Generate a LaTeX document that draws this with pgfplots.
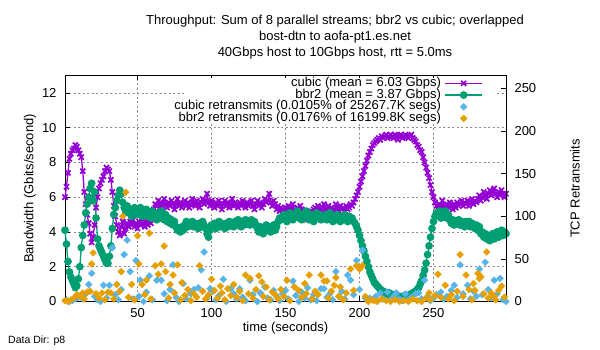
\documentclass[border=0pt]{standalone}
\usepackage{pgfplots}
\pgfplotsset{compat=1.18}
\usepackage{fontspec}
\setmainfont{Liberation Sans}
\definecolor{cubicc}{RGB}{148,0,211}
\definecolor{bbrc}{RGB}{0,158,115}
\definecolor{cubr}{RGB}{86,180,233}
\definecolor{bbrr}{RGB}{230,159,0}
\pgfplotsset{
  cubicstyle/.style={color=cubicc, line width=1.3pt, mark=x, mark size=3.6pt, mark options={line width=1.7pt}},
  bbrstyle/.style={color=bbrc, line width=1.3pt, mark=*, mark size=3.2pt},
  cubrstyle/.style={only marks, color=cubr, mark=square*, mark size=2.4pt, mark options={rotate=45}},
  bbrrstyle/.style={only marks, color=bbrr, mark=square*, mark size=2.4pt, mark options={rotate=45}},
  mylegend/.style={legend image code/.code={\draw[mark repeat=2,mark phase=2,##1] plot coordinates {(-15pt,0pt) (3.5pt,0pt) (22pt,0pt)};}},
}
\newcommand{\tfont}{\fontsize{13}{13}\selectfont}
\begin{document}
\tfont
\begin{tikzpicture}
\useasboundingbox (0pt,0pt) rectangle (600pt,350pt);
\node[anchor=base, font=\tfont] at (335pt,325.4pt) {Throughput: Sum of 8 parallel streams; bbr2 vs cubic; overlapped};
\node[anchor=base, font=\tfont] at (335pt,309.4pt) {bost-dtn to aofa-pt1.es.net};
\node[anchor=base, font=\tfont] at (335pt,293.4pt) {40Gbps host to 10Gbps host, rtt = 5.0ms};
\node[anchor=base west, font=\fontsize{10.5}{10.5}\selectfont, inner sep=0pt] at (8pt,6pt) {Data Dir: p8};
\begin{axis}[
  at={(65pt,48.5pt)}, anchor=south west, scale only axis,
  width=441pt, height=226pt,
  xmin=1, xmax=299, ymin=0, ymax=13,
  xtick={50,100,150,200,250},
  ytick={0,2,4,6,8,10,12},
  ytick pos=left, xtick pos=both,
  tick align=inside, major tick length=5pt,
  tick style={black, line width=0.6pt},
  grid=major,
  grid style={black!45, dash pattern=on 2pt off 2.5pt, line width=0.6pt},
  axis line style={line width=0.9pt},
  ticklabel style={font=\tfont},
  yticklabel style={xshift=-4pt},
  xticklabel style={yshift=-2pt},
  /pgf/number format/assume math mode=true,
  xlabel={time (seconds)},
  ylabel={Bandwidth (Gbits/second)},
  every axis y label/.style={at={(axis description cs:-0.0794,0.5)}, rotate=90, anchor=center, font=\tfont},
  every axis x label/.style={at={(axis description cs:0.5,-0.12)}, anchor=center, font=\tfont},
  clip=false,
]
\addplot[cubicstyle] coordinates {
(1,6.0)(2,6.6)(3,7.4)(4,8.2)(5,8.5)(6,8.7)(7,8.8)(8,9.0)(9,8.9)(10,8.7)
(11,8.5)(12,8.3)(13,7.5)(14,6.3)(15,5.6)(16,5.0)(17,4.5)(18,3.9)(19,3.4)(20,3.7)
(21,4.4)(22,5.4)(23,6.0)(24,6.5)(25,6.8)(26,7.0)(27,7.2)(28,7.5)(29,7.7)(30,7.6)
(31,7.5)(32,7.0)(33,6.3)(34,5.5)(35,4.9)(36,4.4)(37,4.0)(38,3.8)(39,4.3)(40,4.6)
(41,3.9)(42,4.2)(43,4.5)(44,4.3)(45,4.6)(46,4.4)(47,4.7)(48,4.3)(49,4.5)(50,4.2)
(51,4.6)(52,4.4)(53,4.8)(54,4.5)(55,4.3)(56,4.6)(57,4.4)(58,4.7)(59,4.5)(60,4.9)
(61,5.3)(62,5.6)(63,5.5)(64,5.8)(65,5.4)(66,5.7)(67,5.5)(68,5.9)(69,5.6)(70,5.4)
(71,5.7)(72,5.5)(73,5.8)(74,5.6)(75,5.3)(76,5.6)(77,5.9)(78,5.5)(79,5.7)(80,5.4)
(81,5.6)(82,5.8)(83,5.5)(84,5.7)(85,5.4)(86,5.6)(87,5.9)(88,5.6)(89,5.5)(90,5.8)
(91,5.6)(92,5.4)(93,5.7)(94,5.9)(95,5.6)(96,5.8)(97,6.2)(98,5.7)(99,5.5)(100,5.8)
(101,5.6)(102,5.4)(103,5.7)(104,5.5)(105,5.8)(106,5.6)(107,5.3)(108,5.6)(109,5.8)(110,5.5)
(111,5.7)(112,5.4)(113,5.6)(114,5.9)(115,5.5)(116,5.7)(117,5.6)(118,5.4)(119,5.7)(120,5.5)
(121,5.8)(122,5.6)(123,5.4)(124,5.7)(125,5.5)(126,5.6)(127,5.8)(128,5.5)(129,5.3)(130,5.6)
(131,5.8)(132,5.5)(133,5.7)(134,5.4)(135,5.6)(136,5.9)(137,5.7)(138,5.8)(139,6.2)(140,5.7)
(141,5.5)(142,5.8)(143,5.6)(144,5.3)(145,5.5)(146,5.2)(147,5.4)(148,5.3)(149,5.1)(150,5.4)
(151,5.3)(152,5.5)(153,5.2)(154,5.4)(155,5.6)(156,5.3)(157,5.1)(158,5.4)(159,5.2)(160,5.5)
(161,5.3)(162,5.0)(163,4.8)(164,4.7)(165,5.0)(166,4.8)(167,5.2)(168,4.9)(169,5.3)(170,5.4)
(171,5.2)(172,5.5)(173,5.3)(174,5.1)(175,5.4)(176,5.6)(177,5.3)(178,5.2)(179,5.5)(180,5.3)
(181,5.4)(182,5.1)(183,5.3)(184,5.6)(185,5.4)(186,5.2)(187,5.5)(188,5.3)(189,5.4)(190,5.2)
(191,5.5)(192,5.3)(193,5.4)(194,5.6)(195,5.5)(196,5.7)(197,5.9)(198,6.1)(199,6.3)(200,6.6)
(201,6.9)(202,7.2)(203,7.5)(204,7.8)(205,8.1)(206,8.4)(207,8.6)(208,8.8)(209,9.0)(210,9.1)
(211,9.2)(212,9.3)(213,9.4)(214,9.3)(215,9.5)(216,9.4)(217,9.5)(218,9.6)(219,9.4)(220,9.5)
(221,9.6)(222,9.5)(223,9.4)(224,9.6)(225,9.5)(226,9.3)(227,9.5)(228,9.6)(229,9.4)(230,9.5)
(231,9.6)(232,9.5)(233,9.4)(234,9.5)(235,9.6)(236,9.4)(237,9.3)(238,9.2)(239,9.0)(240,8.9)
(241,8.7)(242,8.6)(243,8.3)(244,8.0)(245,7.7)(246,7.4)(247,7.1)(248,6.7)(249,6.3)(250,6.0)
(251,5.7)(252,5.5)(253,5.3)(254,5.6)(255,5.4)(256,5.8)(257,5.5)(258,5.3)(259,5.6)(260,5.4)
(261,5.7)(262,5.5)(263,5.3)(264,5.6)(265,5.4)(266,5.7)(267,5.5)(268,5.6)(269,5.8)(270,5.5)
(271,5.7)(272,5.6)(273,5.8)(274,5.5)(275,5.7)(276,5.9)(277,5.6)(278,5.8)(279,5.7)(280,5.9)
(281,6.1)(282,5.8)(283,6.0)(284,6.3)(285,6.1)(286,5.9)(287,6.2)(288,6.4)(289,6.1)(290,6.3)
(291,6.5)(292,6.2)(293,6.0)(294,6.3)(295,6.1)(296,6.4)(297,6.2)(298,6.0)(299,6.2)
};
\addplot[bbrstyle] coordinates {
(1,4.1)(2,3.3)(3,2.3)(4,1.7)(5,1.4)(6,1.2)(7,1.0)(8,0.8)(9,0.9)(10,1.3)
(11,2.0)(12,3.1)(13,3.8)(14,4.4)(15,5.1)(16,5.6)(17,6.0)(18,6.5)(19,6.8)(20,5.8)
(21,6.3)(22,4.8)(23,3.6)(24,3.2)(25,3.0)(26,2.8)(27,2.6)(28,2.4)(29,2.2)(30,2.2)
(31,2.6)(32,3.2)(33,4.2)(34,5.0)(35,5.4)(36,5.8)(37,6.1)(38,6.4)(39,6.2)(40,5.7)
(41,5.4)(42,5.2)(43,5.5)(44,5.1)(45,5.3)(46,4.9)(47,5.2)(48,5.4)(49,5.0)(50,5.3)
(51,5.1)(52,5.4)(53,4.9)(54,5.2)(55,5.0)(56,5.3)(57,4.9)(58,5.1)(59,4.8)(60,5.2)
(61,4.9)(62,5.1)(63,4.7)(64,5.0)(65,4.8)(66,5.2)(67,4.9)(68,4.7)(69,5.0)(70,4.6)
(71,4.8)(72,4.5)(73,4.7)(74,4.4)(75,4.6)(76,4.3)(77,4.1)(78,4.2)(79,4.0)(80,4.3)
(81,4.1)(82,4.4)(83,4.6)(84,4.3)(85,4.5)(86,4.4)(87,4.6)(88,4.3)(89,4.5)(90,4.4)
(91,4.2)(92,4.5)(93,4.3)(94,4.6)(95,4.4)(96,4.2)(97,3.9)(98,3.7)(99,4.1)(100,4.4)
(101,4.3)(102,4.5)(103,4.2)(104,4.4)(105,4.6)(106,4.3)(107,4.5)(108,4.4)(109,4.2)(110,4.5)
(111,4.3)(112,4.6)(113,4.4)(114,4.5)(115,4.3)(116,4.6)(117,4.4)(118,4.7)(119,4.5)(120,4.3)
(121,4.6)(122,4.4)(123,4.7)(124,4.5)(125,4.6)(126,4.4)(127,4.7)(128,4.5)(129,4.6)(130,4.4)
(131,4.2)(132,4.0)(133,4.3)(134,4.1)(135,3.9)(136,4.2)(137,4.4)(138,4.1)(139,4.3)(140,4.0)
(141,4.2)(142,4.4)(143,4.1)(144,4.3)(145,4.6)(146,4.8)(147,4.7)(148,4.9)(149,5.0)(150,4.8)
(151,4.6)(152,4.9)(153,5.1)(154,4.8)(155,4.7)(156,5.0)(157,4.9)(158,5.2)(159,4.8)(160,5.0)
(161,4.7)(162,4.9)(163,5.1)(164,5.2)(165,4.9)(166,4.7)(167,5.0)(168,4.8)(169,4.6)(170,4.9)
(171,5.1)(172,4.8)(173,5.0)(174,4.7)(175,4.9)(176,4.8)(177,5.0)(178,4.7)(179,4.9)(180,5.1)
(181,4.8)(182,4.6)(183,4.9)(184,4.7)(185,5.0)(186,4.8)(187,4.6)(188,4.9)(189,4.7)(190,5.0)
(191,4.8)(192,4.6)(193,4.9)(194,4.7)(195,4.8)(196,4.6)(197,4.5)(198,4.3)(199,4.1)(200,3.8)
(201,3.5)(202,3.2)(203,2.9)(204,2.6)(205,2.3)(206,2.0)(207,1.7)(208,1.5)(209,1.3)(210,1.1)
(211,1.0)(212,0.9)(213,0.8)(214,0.7)(215,0.6)(216,0.6)(217,0.5)(218,0.5)(219,0.4)(220,0.5)
(221,0.4)(222,0.4)(223,0.3)(224,0.4)(225,0.3)(226,0.3)(227,0.3)(228,0.2)(229,0.3)(230,0.3)
(231,0.2)(232,0.3)(233,0.3)(234,0.4)(235,0.4)(236,0.5)(237,0.5)(238,0.6)(239,0.7)(240,0.8)
(241,1.0)(242,1.2)(243,1.5)(244,1.8)(245,2.2)(246,2.7)(247,3.2)(248,3.7)(249,4.2)(250,4.6)
(251,4.9)(252,5.1)(253,5.0)(254,5.2)(255,4.8)(256,5.1)(257,4.9)(258,5.2)(259,4.8)(260,5.0)
(261,4.7)(262,4.5)(263,4.7)(264,4.4)(265,4.6)(266,4.5)(267,4.7)(268,4.4)(269,4.6)(270,4.5)
(271,4.3)(272,4.6)(273,4.4)(274,4.6)(275,4.3)(276,4.5)(277,4.4)(278,4.2)(279,4.4)(280,4.1)
(281,4.3)(282,3.9)(283,4.0)(284,3.7)(285,3.9)(286,3.6)(287,3.8)(288,3.5)(289,3.7)(290,3.9)
(291,3.6)(292,3.8)(293,4.0)(294,3.7)(295,3.9)(296,4.1)(297,3.8)(298,4.0)(299,3.9)
};
\fill[white] (axis description cs:0.2766,0.785) rectangle (axis description cs:0.975,0.99);
\end{axis}
\begin{axis}[
  at={(65pt,48.5pt)}, anchor=south west, scale only axis,
  width=441pt, height=226pt,
  xmin=1, xmax=299, ymin=0, ymax=265,
  axis x line=none, axis y line*=right,
  ytick={0,50,100,150,200,250},
  tick align=inside, major tick length=5pt,
  tick style={black, line width=0.6pt},
  axis line style={line width=0.9pt},
  ticklabel style={font=\tfont},
  yticklabel style={xshift=4pt},
  /pgf/number format/assume math mode=true,
  ylabel={TCP Retransmits},
  every axis y label/.style={at={(axis description cs:1.1565,0.5)}, rotate=90, anchor=center, font=\tfont},
  clip=false,
  mylegend,
  legend cell align=right, legend plot pos=right,
  legend style={at={(axis description cs:0.9479,0.992)}, anchor=north east, draw=none, fill=none,
    font=\tfont, inner xsep=0pt, inner ysep=0pt, row sep=0pt,
    nodes={inner ysep=0pt, inner xsep=3.5pt, text height=9pt, text depth=2.7pt}},
]
\addlegendimage{color=cubicc, line width=1.3pt, mark=x, mark size=3.6pt, mark options={line width=1.7pt}}
\addlegendentry{cubic (mean = 6.03 Gbps)}
\addlegendimage{color=bbrc, line width=1.3pt, mark=*, mark size=3.2pt}
\addlegendentry{bbr2 (mean = 3.87 Gbps)}
\addplot[cubrstyle] coordinates {
(2,2)(4,0)(6,1)(8,3)(10,5)(12,7)(13,3)(15,9)(17,20)(19,33)(21,6)(23,2)(25,0)(27,19)(29,4)(31,19)(33,63)(35,8)(37,2)(39,14)
(41,55)(43,72)(45,35)(47,3)(49,48)(51,6)(52,25)(54,0)(56,11)(58,30)(60,2)(63,25)(66,25)(68,9)(70,1)(72,14)(74,43)(76,5)(78,0)(81,21)
(83,3)(86,9)(88,14)(91,16)(93,37)(95,58)(97,4)(99,15)(101,12)(103,2)(105,7)(108,26)(110,0)(113,15)(115,9)(117,3)(119,15)(121,5)(123,1)(126,25)
(128,8)(131,0)(133,10)(136,17)(138,4)(140,2)(142,13)(144,6)(146,1)(148,9)(150,13)(152,3)(155,24)(157,7)(159,0)(161,11)(163,4)(165,16)(167,2)(169,8)
(171,1)(174,15)(176,15)(178,5)(180,9)(182,2)(184,35)(186,6)(188,12)(190,3)(192,31)(194,25)(196,8)(198,48)(200,14)(202,60)(204,4)(206,1)(207,4)(209,2)
(211,6)(214,10)(216,3)(219,11)(221,2)(223,6)(225,10)(227,3)(229,1)(231,9)(233,2)(235,5)(238,9)(240,10)(242,3)(244,25)(246,6)(248,1)(250,4)(252,8)
(255,11)(257,3)(259,6)(262,13)(264,19)(266,5)(268,43)(270,9)(273,19)(275,3)(277,12)(279,6)(281,38)(283,8)(285,46)(287,14)(289,4)(291,25)(293,9)(295,27)
(297,2)(299,0)
};
\addlegendentry{cubic retransmits (0.0105\% of 25267.7K segs)}
\addplot[bbrrstyle] coordinates {
(1,1)(3,0)(5,2)(7,4)(9,8)(11,6)(13,10)(14,3)(16,11)(18,12)(19,44)(20,57)(22,9)(24,4)(26,10)(28,2)(30,11)(32,10)(34,3)(36,20)
(38,12)(39,35)(40,100)(42,128)(44,5)(46,20)(48,2)(50,77)(51,44)(53,20)(55,8)(56,25)(58,80)(59,3)(62,42)(64,32)(66,44)(68,65)(69,35)(71,4)
(72,20)(74,31)(75,10)(77,43)(79,2)(80,22)(82,7)(84,14)(86,1)(88,9)(90,5)(92,42)(94,12)(96,3)(98,8)(100,26)(102,13)(104,4)(106,18)(107,10)
(109,2)(111,15)(113,7)(115,20)(117,5)(119,12)(121,1)(123,31)(125,9)(126,27)(128,4)(130,14)(132,30)(134,23)(135,6)(137,17)(139,2)(141,11)(143,8)(145,3)
(147,14)(149,6)(151,25)(153,1)(156,17)(159,13)(161,5)(163,21)(164,9)(166,31)(168,3)(170,12)(171,10)(172,8)(174,31)(176,24)(178,24)(179,4)(181,12)(183,19)
(184,28)(186,6)(187,17)(189,2)(191,10)(194,38)(196,13)(198,42)(200,38)(202,42)(204,6)(206,0)(208,2)(210,1)(212,0)(215,3)(218,1)(221,0)(224,2)(227,0)
(230,1)(233,0)(236,3)(239,1)(242,0)(245,4)(247,10)(248,2)(251,7)(253,32)(255,5)(258,19)(260,3)(262,8)(264,1)(266,12)(268,55)(270,6)(272,31)(274,14)
(276,2)(277,21)(278,13)(280,33)(281,27)(282,29)(284,9)(286,58)(287,4)(289,10)(291,6)(292,2)(294,13)(296,18)(298,5)
};
\addlegendentry{bbr2 retransmits (0.0176\% of 16199.8K segs)}
\end{axis}
\end{tikzpicture}
\end{document}
